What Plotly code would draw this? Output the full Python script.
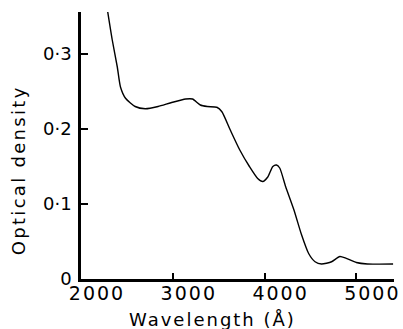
import plotly.graph_objects as go

wavelength = [2290, 2340, 2395, 2430, 2485, 2590, 2700, 2840, 2980, 3140, 3215, 3300,
              3375, 3480, 3535, 3625, 3730, 3835, 3925, 3980, 4035, 4090, 4130, 4165,
              4230, 4320, 4400, 4480, 4550, 4620, 4730, 4820, 4890, 5000, 5120, 5400]
density = [0.357, 0.319, 0.283, 0.256, 0.241, 0.230, 0.227, 0.230, 0.235, 0.240, 0.240, 0.232,
           0.230, 0.229, 0.223, 0.199, 0.172, 0.150, 0.134, 0.130, 0.136, 0.150, 0.152, 0.148,
           0.123, 0.092, 0.060, 0.034, 0.023, 0.020, 0.023, 0.030, 0.0275, 0.022, 0.020, 0.020]

x_ticks = [2000, 3000, 4000, 5000]
x_labels = ["2000", "3000", "4000", "5000"]
y_ticks = [0, 0.1, 0.2, 0.3]
y_labels = ["0", "0·1", "0·2", "0·3"]

font = "DejaVu Sans"


def spaced(t, px):
    return f'<span style="letter-spacing:{px}px">{t}</span>'


fig = go.Figure()
fig.add_trace(go.Scatter(
    x=wavelength, y=density, mode="lines",
    line=dict(color="black", width=1.4, shape="spline", smoothing=0.6),
    hoverinfo="skip", showlegend=False,
))

fig.update_layout(
    width=403, height=329,
    margin=dict(l=81, r=3, t=12, b=50),
    paper_bgcolor="white", plot_bgcolor="white",
    font=dict(family=font, color="black", size=18),
    xaxis=dict(
        range=[2000, 5410], showgrid=False, zeroline=False,
        showline=True, linecolor="black", linewidth=2.5,
        ticks="inside", ticklen=6, tickwidth=1.5, tickcolor="black",
        tickvals=x_ticks, ticktext=[spaced(t, 2) for t in x_labels], ticklabelshift=16,
        ticklabelstandoff=-5, ticklabeloverflow="allow",
        tickfont=dict(size=19, family=font),
    ),
    yaxis=dict(
        range=[0, 0.356], showgrid=False, zeroline=False,
        showline=True, linecolor="black", linewidth=2.5,
        ticks="inside", ticklen=7, tickwidth=1.5, tickcolor="black",
        tickvals=y_ticks, ticktext=y_labels, ticklabelstandoff=3,
        tickfont=dict(size=18, family=font),
    ),
    annotations=[
        dict(text=spaced("Wavelength (Å)", 2), xref="paper", yref="paper",
             x=(215 - 81) / 319, y=-(319 - 279) / 267, xanchor="center", yanchor="middle",
             showarrow=False, font=dict(size=18, family=font)),
        dict(text=spaced("Optical density", 2.3), xref="paper", yref="paper", textangle=-90,
             x=-(81 - 17) / 319, y=(279 - 170) / 267, xanchor="center", yanchor="middle",
             showarrow=False, font=dict(size=18, family=font)),
    ],
)

fig.write_html("out.html")
